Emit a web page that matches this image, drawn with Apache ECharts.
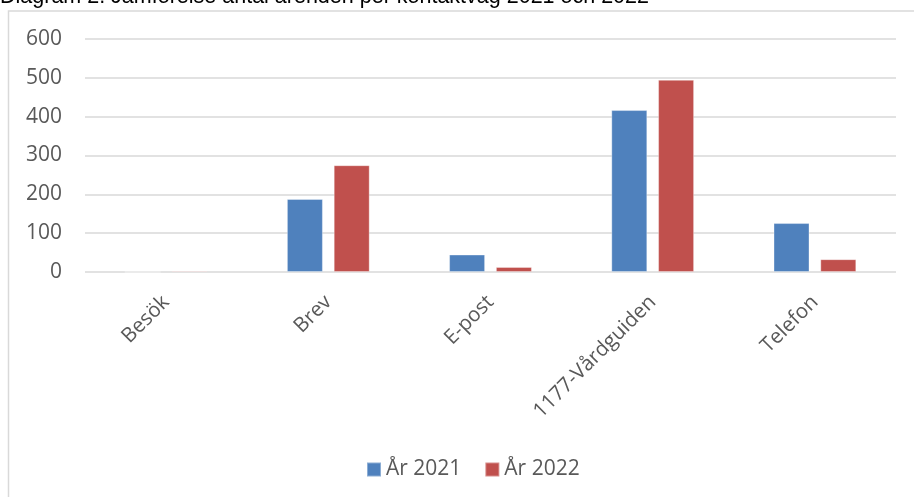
<!DOCTYPE html>
<html>
<head>
<meta charset="utf-8">
<script src="https://cdn.jsdelivr.net/npm/echarts@6/dist/echarts.min.js"></script>
<style>
  html, body { margin: 0; padding: 0; background: #ffffff; }
  #chart { width: 914px; height: 497px; }
</style>
</head>
<body>
<div id="chart"></div>
<script>
// Ärenden per kontaktväg
const categories = ['Besök', 'Brev', 'E-post', '1177-Vårdguiden', 'Telefon'];
const values2021 = [0, 188, 45, 417, 126];
const values2022 = [3, 275, 13, 495, 33];
const seriesNames = ['År 2021', 'År 2022'];
const yTicks = { min: 0, max: 600, interval: 100 };
const titleText = 'Diagram 2. Jämförelse antal ärenden per kontaktväg 2021 och 2022';

const chart = echarts.init(document.getElementById('chart'), null, { renderer: 'canvas' });

const labelFont = '"Open Sans", "DejaVu Sans", sans-serif';

chart.setOption({
  backgroundColor: '#ffffff',
  animation: false,
  graphic: [
    {
      type: 'text',
      z: -2,
      left: 0,
      top: -14,
      style: {
        text: titleText,
        font: '21.5px "Liberation Sans", Arial, sans-serif',
        fill: '#000000'
      }
    },
    {
      type: 'rect',
      z: -1,
      shape: { x: 8.5, y: 11, width: 1000, height: 600 },
      style: { fill: '#ffffff', stroke: '#D9D9D9', lineWidth: 1.5 }
    }
  ],
  grid: { left: 85, right: 18, top: 39, bottom: 225, containLabel: false },
  legend: {
    data: seriesNames,
    bottom: 12,
    left: 361,
    itemWidth: 14,
    itemHeight: 14,
    itemGap: 23,
    icon: 'rect',
    textStyle: { fontFamily: labelFont, fontSize: 21, color: '#595959' }
  },
  xAxis: {
    type: 'category',
    data: categories,
    axisLine: { show: false },
    axisTick: { show: false },
    axisLabel: {
      rotate: 45,
      margin: 27,
      interval: 0,
      fontFamily: labelFont,
      fontSize: 20.5,
      color: '#595959'
    }
  },
  yAxis: {
    type: 'value',
    min: yTicks.min,
    max: yTicks.max,
    interval: yTicks.interval,
    axisLine: { show: false },
    axisTick: { show: false },
    splitLine: { lineStyle: { color: '#D9D9D9', width: 1.5 } },
    axisLabel: {
      margin: 23,
      fontFamily: labelFont,
      fontSize: 21,
      color: '#595959'
    }
  },
  series: [
    {
      name: seriesNames[0],
      type: 'bar',
      data: values2021,
      barWidth: 36,
      barGap: '30%',
      itemStyle: { color: '#4F81BD', borderColor: 'rgba(255,255,255,0.35)', borderWidth: 1 }
    },
    {
      name: seriesNames[1],
      type: 'bar',
      data: values2022,
      barWidth: 36,
      barGap: '30%',
      itemStyle: { color: '#C0504D', borderColor: 'rgba(255,255,255,0.35)', borderWidth: 1 }
    }
  ]
});
</script>
</body>
</html>
